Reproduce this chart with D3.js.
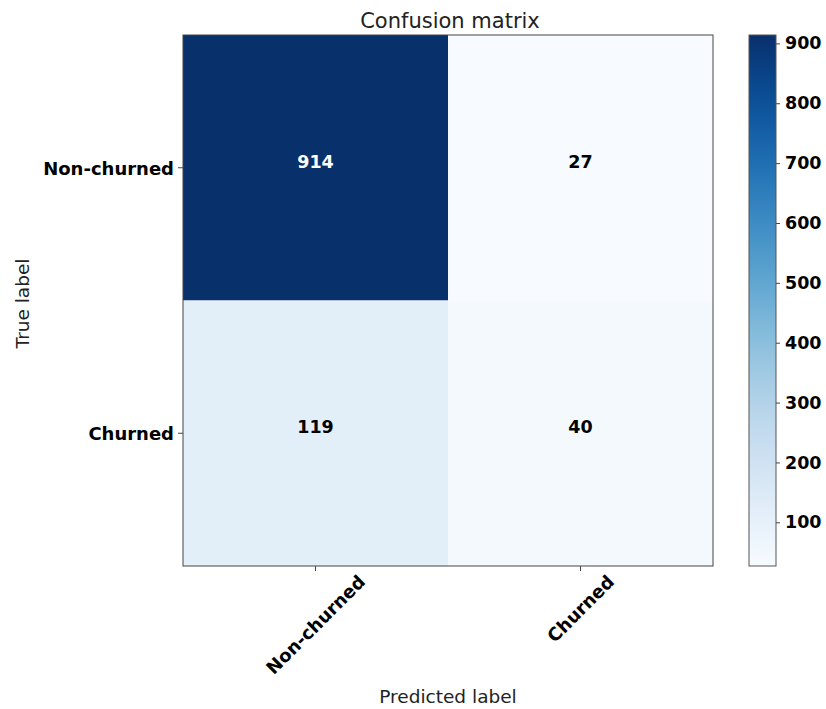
<!DOCTYPE html>
<html>
<head>
<meta charset="utf-8">
<script src="https://cdn.jsdelivr.net/npm/d3@7"></script>
<style>
  body { margin: 0; background: #fff; }
  svg text { font-family: "DejaVu Sans", sans-serif; }
</style>
</head>
<body>
<div id="chart"></div>
<script>
var width = 826,
    height = 709;

var classes = ["Non-churned", "Churned"];
var matrix = [[914, 27], [119, 40]];
var cbarTicks = [100, 200, 300, 400, 500, 600, 700, 800, 900];

var plotL = 183, plotR = 713, plotT = 35, plotB = 566;
var cbL = 749, cbR = 776;

var cells = [];
matrix.forEach(function(row, i) {
  row.forEach(function(v, j) {
    cells.push({row: classes[i], col: classes[j], value: v});
  });
});

var vmin = d3.min(cells, function(d) { return d.value; }),
    vmax = d3.max(cells, function(d) { return d.value; });

var x = d3.scaleBand().domain(classes).range([plotL, plotR]);
var y = d3.scaleBand().domain(classes).range([plotT, plotB]);
var color = d3.scaleSequential(d3.interpolateBlues).domain([vmin, vmax]);

var svg = d3.select("#chart")
    .append("svg")
    .attr("width", width)
    .attr("height", height);

svg.append("g")
    .selectAll("rect")
    .data(cells)
    .enter()
    .append("rect")
    .attr("x", function(d) { return x(d.col); })
    .attr("y", function(d) { return y(d.row); })
    .attr("width", x.bandwidth())
    .attr("height", y.bandwidth())
    .attr("fill", function(d) { return color(d.value); });

var thresh = vmax / 2;
svg.append("g")
    .selectAll("text")
    .data(cells)
    .enter()
    .append("text")
    .attr("x", function(d) { return x(d.col) + x.bandwidth() / 2; })
    .attr("y", function(d) { return y(d.row) + y.bandwidth() / 2 - 6; })
    .attr("text-anchor", "middle")
    .attr("dominant-baseline", "central")
    .style("font-size", "17.5px")
    .style("font-weight", "bold")
    .attr("fill", function(d) { return d.value > thresh ? "#fff" : "#000"; })
    .text(function(d) { return d.value; });

// frame
svg.append("rect")
    .attr("x", plotL).attr("y", plotT)
    .attr("width", plotR - plotL).attr("height", plotB - plotT)
    .attr("fill", "none").attr("stroke", "#444").attr("stroke-width", 1);

// y axis
var yAxis = svg.append("g")
    .attr("transform", "translate(" + plotL + ",0)")
    .call(d3.axisLeft(y).tickSize(5).tickPadding(4));
yAxis.select(".domain").remove();
yAxis.selectAll("line").attr("stroke", "#444");
yAxis.selectAll("text")
    .attr("dy", "0.4em")
    .style("font-size", "18px")
    .style("font-weight", "bold")
    .attr("fill", "#000");

// x axis with rotated labels
var xAxis = svg.append("g")
    .attr("transform", "translate(0," + plotB + ")")
    .call(d3.axisBottom(x).tickSize(5));
xAxis.select(".domain").remove();
xAxis.selectAll("line").attr("stroke", "#444");
xAxis.selectAll("text")
    .style("font-size", "18px")
    .style("font-weight", "bold")
    .attr("fill", "#000")
    .attr("dy", null)
    .attr("y", null)
    .attr("text-anchor", "middle")
    .attr("dominant-baseline", "central")
    .attr("transform", function() {
      var len = this.getComputedTextLength();
      var h = (len + 18) * Math.SQRT1_2;
      return "translate(0," + (6 + h / 2) + ") rotate(-45)";
    });

// colorbar
var cb = d3.scaleLinear().domain([vmin, vmax]).range([plotB, plotT]);
var defs = svg.append("defs");
var grad = defs.append("linearGradient")
    .attr("id", "cbgrad")
    .attr("x1", "0").attr("y1", "1").attr("x2", "0").attr("y2", "0");
d3.range(0, 1.0001, 0.05).forEach(function(t) {
  grad.append("stop")
      .attr("offset", t)
      .attr("stop-color", d3.interpolateBlues(t));
});
svg.append("rect")
    .attr("x", cbL).attr("y", plotT)
    .attr("width", cbR - cbL).attr("height", plotB - plotT)
    .attr("fill", "url(#cbgrad)")
    .attr("stroke", "#555").attr("stroke-width", 1);

var cAxis = svg.append("g")
    .attr("transform", "translate(" + cbR + ",0)")
    .call(d3.axisRight(cb).tickValues(cbarTicks).tickSize(4).tickPadding(5));
cAxis.select(".domain").remove();
cAxis.selectAll("line").attr("stroke", "#444");
cAxis.selectAll("text")
    .style("font-size", "17.5px")
    .style("font-weight", "bold")
    .attr("fill", "#000");

// titles
svg.append("text")
    .attr("x", (plotL + plotR) / 2 + 2)
    .attr("y", 28)
    .attr("text-anchor", "middle")
    .style("font-size", "21px")
    .attr("fill", "#222")
    .text("Confusion matrix");

svg.append("text")
    .attr("x", (plotL + plotR) / 2)
    .attr("y", 703)
    .attr("text-anchor", "middle")
    .style("font-size", "18.5px")
    .attr("fill", "#222")
    .text("Predicted label");

svg.append("text")
    .attr("transform", "translate(29," + ((plotT + plotB) / 2 + 3) + ") rotate(-90)")
    .attr("text-anchor", "middle")
    .style("font-size", "18.5px")
    .attr("fill", "#222")
    .text("True label");
</script>
</body>
</html>
